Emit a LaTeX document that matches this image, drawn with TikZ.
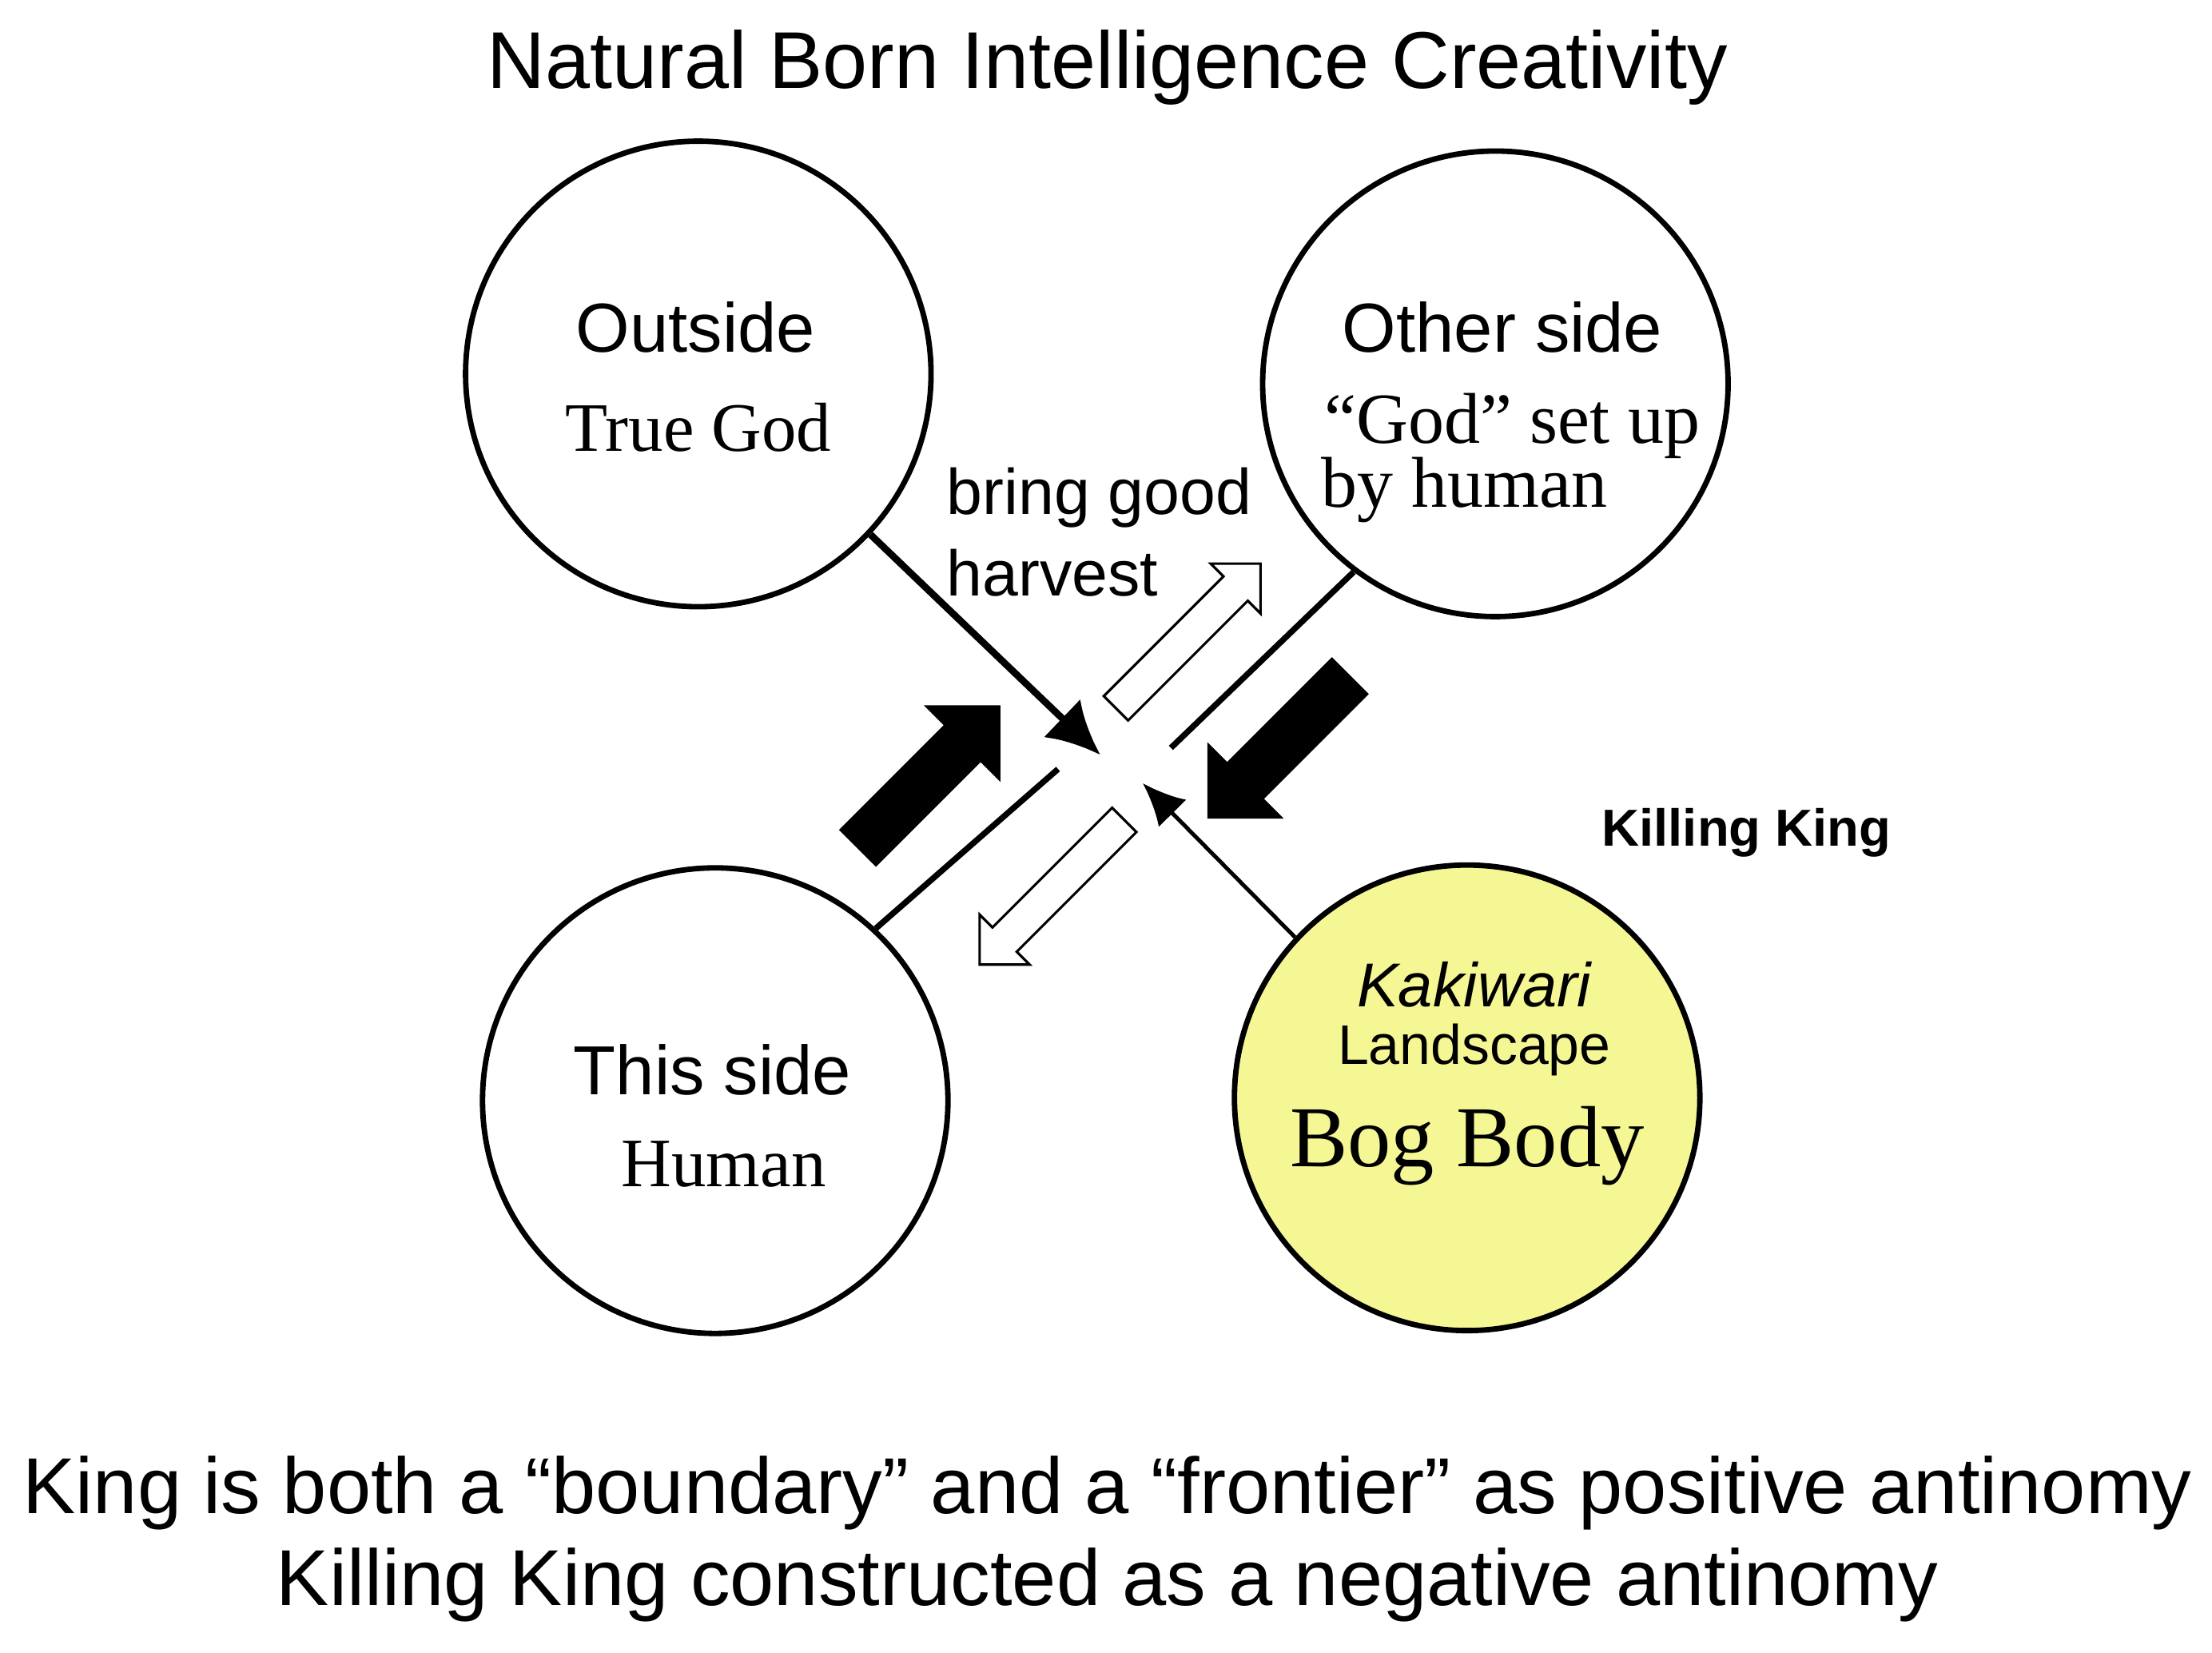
\documentclass[tikz,border=0pt]{standalone}
\usepackage{fontspec}
\setmainfont{Liberation Sans}
\newfontfamily\seriff{Liberation Serif}
\usetikzlibrary{shapes.arrows,arrows.meta}
\definecolor{boggy}{RGB}{245,247,148}
\begin{document}
\begin{tikzpicture}[x=0.02cm,y=-0.02cm,
  circ/.style={circle,draw,line width=2.2pt,minimum size=6.6cm,inner sep=0},
  sz/.style={font=\fontsize{#1}{#1}\selectfont},
  sr/.style={font=\fontsize{#1}{#1}\selectfont\seriff},
  barr/.style={line width=2.4pt},
  blk/.style={single arrow,fill=black,draw=black,minimum height=2.85cm,minimum width=1.5cm,single arrow head extend=0.38cm,inner sep=0.35cm,anchor=center},
  wht/.style={single arrow,fill=white,draw=black,line width=1pt,minimum height=2.9cm,minimum width=1.0cm,single arrow head extend=0.25cm,inner sep=0.22cm,anchor=center}]
\useasboundingbox (0,0) rectangle (1568,1171);
\node[sz=32.5] (title) at (785,48) {Natural Born Intelligence Creativity};
\node[circ] (O) at (495,265) {};
\node[circ] (S) at (1060,272) {};
\node[circ] (T) at (507,780) {};
\node[circ,fill=boggy] (B) at (1040,778) {};
\node[sz=28] (t1) at (493,232) {Outside};
\node[sr=28] (t2) at (495,303) {True God};
\node[sz=28] (t3) at (1065,232) {Other side};
\node[sr=29] (t4) at (1072,302) {“God” set up};
\node[sr=29] (t5) at (1038,347) {by human};
\node[font=\fontsize{25}{25}\selectfont\itshape] (t8) at (1045,698) {Kakiwari};
\node[sz=28] (t6) at (505,758) {This side};
\node[sr=28] (t7) at (513,825) {Human};
\node[sz=22.5] (t9) at (1045,744) {Landscape};
\node[sr=35] (t10) at (1040,812) {Bog Body};
\node[font=\fontsize{26}{33}\selectfont,align=left,anchor=north west] (bg) at (665,325) {bring good\\harvest};
\node[font=\fontsize{21}{21}\selectfont\bfseries] (kk) at (1238,590) {Killing King};
\node[sz=32] (b1) at (785,1058) {King is both a “boundary” and a “frontier” as positive antinomy};
\node[sz=32] (b2) at (785,1123) {Killing King constructed as a negative antinomy};
\coordinate (c1) at (780,535);
\coordinate (c2) at (810,555);
\coordinate (c3) at (750,545);
\coordinate (c4) at (830,530);
\draw[line width=2.8pt,-{Latex[length=0.75cm,width=0.75cm]}] (O.-43) -- (c1);
\draw[line width=1.6pt,-{Latex[length=0.6cm,width=0.55cm]}] (B.137) -- (c2);
\draw[barr] (T.47) -- (c3);
\draw[barr] (S.-127) -- (c4);
\node[blk,rotate=45] (a1) at (652,557) {};
\node[blk,rotate=225] (a2) at (913,523) {};
\node[wht,rotate=45] (a3) at (838,455) {};
\node[wht,rotate=225] (a4) at (750,628) {};
\end{tikzpicture}
\end{document}
